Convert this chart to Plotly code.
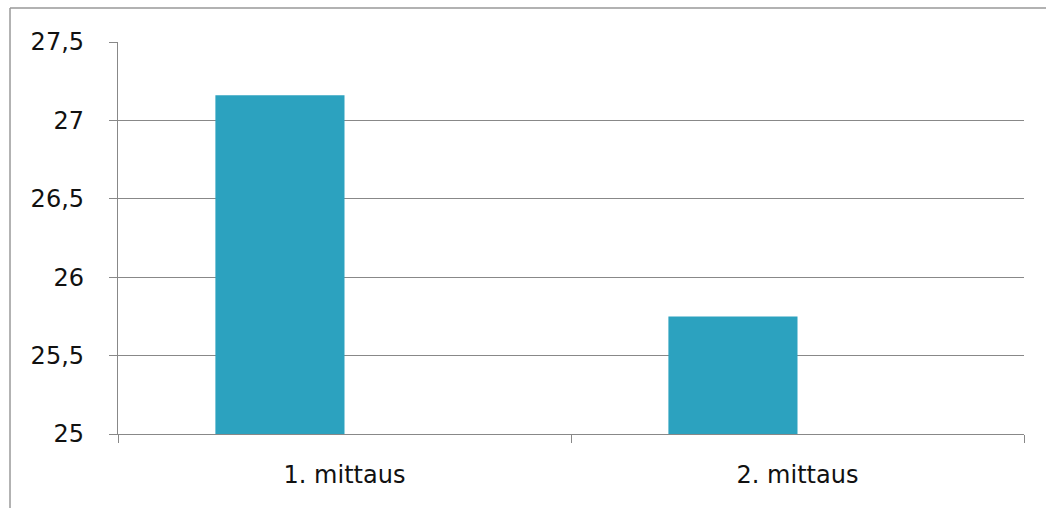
import plotly.graph_objects as go

categories = ["1. mittaus", "2. mittaus"]
values = [27.16, 25.75]
empty_series = [None, None]
y_ticks = [25, 25.5, 26, 26.5, 27, 27.5]
y_tick_labels = ["25", "25,5", "26", "26,5", "27", "27,5"]

grid = "#888888"
fig = go.Figure()
fig.add_trace(go.Bar(x=categories, y=values, marker_color="#2CA2BF", marker_line_width=0))
fig.add_trace(go.Bar(x=categories, y=empty_series, marker_color="#2CA2BF", marker_line_width=0))

fig.update_layout(
    width=1046, height=508,
    margin=dict(l=118, r=22, t=42, b=74),
    paper_bgcolor="white", plot_bgcolor="white",
    barmode="group", bargap=0.43, bargroupgap=0, showlegend=False,
    font=dict(family="DejaVu Sans", size=24, color="#111111"),
)
fig.update_yaxes(
    range=[25, 27.5], tickvals=y_ticks, ticktext=y_tick_labels,
    showgrid=True, gridcolor=grid, gridwidth=1.3,
    showline=True, linecolor=grid, linewidth=1.3,
    ticks="outside", ticklen=8, tickcolor=grid, tickwidth=1.3,
    ticklabelstandoff=20, zeroline=False,
)
fig.update_xaxes(
    showline=True, linecolor=grid, linewidth=1.3,
    ticks="outside", ticklen=8, tickcolor=grid, tickwidth=1.3,
    tickson="boundaries", ticklabelstandoff=19,
)
# chart frame (partially cropped)
fig.add_shape(type="line", xref="paper", yref="paper", x0=-0.1192, x1=-0.1192, y0=-0.3, y1=1.0867,
              line=dict(color="#999999", width=1.5))
fig.add_shape(type="line", xref="paper", yref="paper", x0=-0.1192, x1=1.1, y0=1.0867, y1=1.0867,
              line=dict(color="#999999", width=1.5))

fig.write_html("out.html")
